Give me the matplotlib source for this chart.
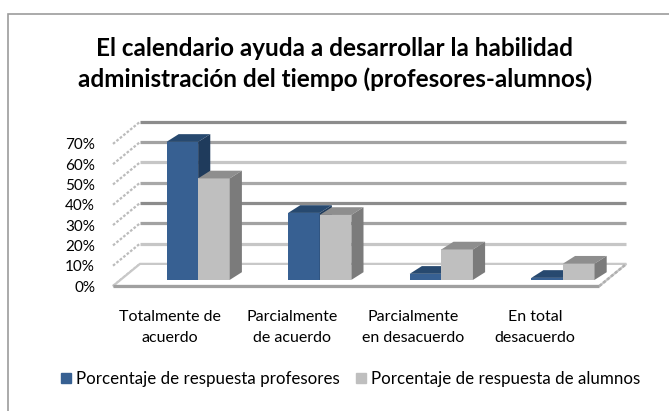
"""Grafico de barras 3D (estilo Excel): calendario y habilidad de administracion del tiempo."""

import matplotlib

matplotlib.use("Agg")
import matplotlib.pyplot as plt
from matplotlib.patches import Polygon, Rectangle

plt.rcParams["font.family"] = ["Lato", "DejaVu Sans"]

TITULO = "El calendario ayuda a desarrollar la habilidad\nadministración del tiempo (profesores-alumnos)"
CATEGORIAS = [
    "Totalmente de\nacuerdo",
    "Parcialmente\nde acuerdo",
    "Parcialmente\nen desacuerdo",
    "En total\ndesacuerdo",
]
PROFESORES = [68, 33, 3, 1]
ALUMNOS = [50, 32, 15, 8]
SERIES = ["Porcentaje de respuesta profesores", "Porcentaje de respuesta de alumnos"]
TICKS = [0, 10, 20, 30, 40, 50, 60, 70]

# estilo: caras frontal / superior / lateral de cada serie
COLORES = {
    "prof": ("#376092", "#27496f", "#1f3b5c"),
    "alum": ("#bfbfbf", "#8e8e8e", "#7b7b7b"),
}
# color de cada linea de division, de 10% a 70%
GRID_COLORES = ["#c6c6c6", "#a2a2a2", "#8c8c8c", "#a8a8a8", "#c6c6c6", "#a2a2a2", "#8c8c8c"]

# profundidad de la pared (en unidades de datos) y de cada barra
PARED_DX, PARED_DY = 0.222, 10.9
BARRA_DX, BARRA_DY = 0.10, 3.8
BASE_Y = 3.0
ANCHO = 0.26
DESPL = 0.44

W, H = 669, 411
fig = plt.figure(figsize=(W / 100, H / 100), dpi=100)

# marco del area del grafico (solo se ven los bordes izquierdo y superior)
fig.add_artist(Rectangle((8 / W, -0.1), 1.2, (H - 13.5) / H + 0.1, transform=fig.transFigure,
                         fill=False, edgecolor="#9c9c9c", linewidth=1.2))

fig.text(335 / W, 1 - 64 / H, TITULO, ha="center", va="center", fontsize=17.5,
         fontweight="bold", linespacing=1.4, color="#000000")

ax = fig.add_axes([100 / W, 1 - 300 / H, 540 / W, 190 / H])
ax.set_xlim(-13 / 121.6, 527 / 121.6)
ax.set_ylim(-14 / 2.03, 176 / 2.03)
for s in ax.spines.values():
    s.set_visible(False)
ax.set_facecolor("none")

n = len(CATEGORIAS)

# lineas de division en la pared del fondo
for t, c in zip(TICKS[1:], GRID_COLORES):
    ax.plot([PARED_DX, n + PARED_DX], [t + PARED_DY] * 2, color=c, lw=2.3,
            solid_capstyle="butt", zorder=1)
# lineas diagonales de la pared lateral
for t in TICKS:
    ax.plot([0, PARED_DX], [t, t + PARED_DY], color="#bcbcbc", lw=1.6,
            linestyle=(0, (1.2, 0.8)), zorder=1)

# piso
piso = Polygon([(0, 0), (n, 0), (n + PARED_DX, PARED_DY), (PARED_DX, PARED_DY)],
               closed=True, facecolor="white", edgecolor="#c8c8c8", lw=1.6, zorder=1)
ax.add_patch(piso)
ax.plot([0, n], [0, 0], color="#a0a0a0", lw=2.3, solid_capstyle="butt", zorder=2)
ax.plot([n, n + PARED_DX], [0, PARED_DY], color="#b0b0b0", lw=1.8,
        linestyle=(0, (1.2, 0.8)), zorder=2)


def barra(x, v, colores, z):
    frente, arriba, lado = colores
    ax.bar(x, v, width=ANCHO, bottom=BASE_Y, align="edge", color=frente,
           edgecolor="none", zorder=z)
    top = BASE_Y + v
    ax.add_patch(Polygon([(x, top), (x + ANCHO, top), (x + ANCHO + BARRA_DX, top + BARRA_DY),
                          (x + BARRA_DX, top + BARRA_DY)], closed=True, facecolor=arriba,
                         edgecolor="none", zorder=z))
    ax.add_patch(Polygon([(x + ANCHO, BASE_Y), (x + ANCHO + BARRA_DX, BASE_Y + BARRA_DY),
                          (x + ANCHO + BARRA_DX, top + BARRA_DY), (x + ANCHO, top)],
                         closed=True, facecolor=lado, edgecolor="none", zorder=z))


for i in range(n):
    barra(i + DESPL, PROFESORES[i], COLORES["prof"], 3 + 2 * i)
    barra(i + DESPL + ANCHO, ALUMNOS[i], COLORES["alum"], 4 + 2 * i)

ax.set_yticks(TICKS)
ax.set_yticklabels([f"{t}%" for t in TICKS], fontsize=11)
ax.tick_params(axis="y", length=0, pad=3.5)
ax.set_xticks([i + 0.47 for i in range(n)])
ax.set_xticklabels(CATEGORIAS, fontsize=11.5, linespacing=1.7)
ax.tick_params(axis="x", length=0, pad=7)

# leyenda
lx = [61, 356]
for k, (nombre, c) in enumerate(zip(SERIES, [COLORES["prof"][0], COLORES["alum"][0]])):
    fig.add_artist(Rectangle((lx[k] / W, 1 - 383 / H), 10 / W, 10 / H,
                             transform=fig.transFigure, color=c))
    fig.text((lx[k] + 15) / W, 1 - 379 / H, nombre, ha="left", va="center", fontsize=12.2)

fig.savefig("out.png", dpi=100)
